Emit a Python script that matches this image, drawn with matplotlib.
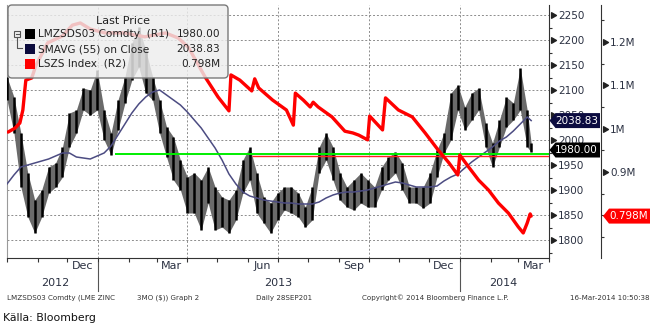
import matplotlib
matplotlib.use("Agg")
import matplotlib.pyplot as plt
import matplotlib.dates as mdates
import matplotlib.ticker as mticker
import matplotlib.transforms as mtransforms
from matplotlib.patches import FancyBboxPatch, Polygon, Rectangle
from matplotlib.path import Path
from matplotlib.transforms import IdentityTransform
import pandas as pd

# --------- data ----------------------------------------
week_dates = list(pd.date_range("2012-10-01", periods=76, freq="7D")) + [pd.Timestamp("2014-03-14")]

price_high = [2126, 2086, 2014, 1934, 1880, 1900, 1946, 1954, 1986, 2054,
              2060, 2104, 2100, 2140, 2060, 2014, 2080, 2126, 2194, 2226,
              2180, 2126, 2080, 2026, 2006, 1960, 1926, 1934, 1920, 1946,
              1906, 1886, 1880, 1900, 1960, 1986, 1934, 1886, 1874, 1894,
              1906, 1906, 1894, 1866, 1906, 1986, 2014, 1986, 1934, 1906,
              1920, 1934, 1920, 1906, 1946, 1966, 1976, 1954, 1906, 1906,
              1906, 1934, 1980, 2014, 2094, 2110, 2066, 2094, 2104, 2034,
              1994, 2040, 2086, 2074, 2144, 2060, 1994]
price_low = [2080, 2014, 1906, 1846, 1814, 1846, 1894, 1906, 1926, 1986,
             2014, 2060, 2050, 2060, 2000, 1970, 2020, 2074, 2120, 2146,
             2094, 2080, 2014, 1966, 1920, 1900, 1854, 1854, 1820, 1874,
             1820, 1826, 1814, 1840, 1894, 1920, 1854, 1834, 1814, 1840,
             1860, 1854, 1846, 1826, 1840, 1934, 1960, 1920, 1880, 1866,
             1860, 1874, 1866, 1866, 1900, 1920, 1934, 1900, 1874, 1874,
             1864, 1874, 1926, 1974, 2000, 2060, 2020, 2040, 2060, 1986,
             1946, 1986, 2026, 2040, 2060, 1986, 1976]
smavg_55 = [1912, 1930, 1946, 1950, 1954, 1958, 1962, 1968, 1974, 1974,
            1966, 1964, 1962, 1968, 1974, 1988, 2010, 2032, 2054, 2072,
            2086, 2096, 2100, 2090, 2080, 2070, 2056, 2040, 2024, 2004,
            1984, 1960, 1932, 1912, 1896, 1888, 1884, 1880, 1878, 1876,
            1874, 1874, 1872, 1872, 1872, 1876, 1884, 1890, 1894, 1896,
            1896, 1898, 1900, 1904, 1908, 1912, 1916, 1914, 1910, 1906,
            1906, 1906, 1908, 1918, 1926, 1932, 1944, 1956, 1966, 1976,
            1986, 1998, 2006, 2018, 2032, 2046, 2038.83]

stock_dates = ["2012-10-02", "2012-10-09", "2012-10-14", "2012-10-17", "2012-10-20",
               "2012-10-26", "2012-10-30", "2012-11-11", "2012-11-26", "2012-12-06",
               "2012-12-14", "2012-12-24", "2013-01-08", "2013-01-28", "2013-02-17",
               "2013-03-10", "2013-03-23", "2013-04-02", "2013-04-19", "2013-05-02",
               "2013-05-13", "2013-05-15", "2013-05-24", "2013-06-05", "2013-06-08",
               "2013-06-12", "2013-06-26", "2013-07-10", "2013-07-17", "2013-07-19",
               "2013-07-27", "2013-08-03", "2013-08-06", "2013-08-11", "2013-08-25",
               "2013-09-07", "2013-09-15", "2013-09-21", "2013-09-30", "2013-10-02",
               "2013-10-15", "2013-10-18", "2013-10-31", "2013-11-14", "2013-11-27",
               "2013-12-10", "2013-12-21", "2013-12-30", "2014-01-01", "2014-01-10",
               "2014-01-20", "2014-01-30", "2014-02-09", "2014-02-19", "2014-03-01",
               "2014-03-06", "2014-03-10", "2014-03-13", "2014-03-14"]
stock_mt = [0.992, 1.001, 1.013, 1.043, 1.112, 1.117, 1.145, 1.198, 1.214, 1.239,
            1.244, 1.230, 1.221, 1.221, 1.212, 1.221, 1.209, 1.188, 1.119, 1.073,
            1.041, 1.124, 1.112, 1.087, 1.115, 1.094, 1.066, 1.043, 1.008, 1.082,
            1.066, 1.050, 1.061, 1.050, 1.027, 0.994, 0.990, 0.985, 0.974, 1.029,
            0.997, 1.071, 1.043, 1.027, 0.990, 0.951, 0.921, 0.893, 0.939, 0.911,
            0.881, 0.858, 0.828, 0.805, 0.773, 0.759, 0.782, 0.803, 0.798]

green_level, green_start = 1972, "2013-01-18"
red_level, red_start = 1969, "2013-06-05"

last_price, last_sma, last_stock = 1980.00, 2038.83, 0.798

month_labels = ["Dec", "Mar", "Jun", "Sep", "Dec", "Mar"]
month_label_dates = ["2012-12-16", "2013-03-16", "2013-06-16", "2013-09-16", "2013-12-16", "2014-03-16"]
year_labels = ["2012", "2013", "2014"]
year_label_dates = ["2012-11-19", "2013-07-02", "2014-02-14"]
year_breaks = ["2013-01-01", "2014-01-01"]

W, H = 655, 327
TXT = "#2b3142"

fig = plt.figure(figsize=(W / 100, H / 100), dpi=100)
ax = fig.add_axes([7 / W, 1 - 258 / H, 542 / W, 253 / H])

# price bars
ax.fill_between(week_dates, price_low, price_high, color="#6a6a6a", lw=0, zorder=2)
ax.vlines(week_dates, price_low, price_high, color="black", lw=1.8, zorder=3)
ax.plot(week_dates, smavg_55, color="#4c4c82", lw=1.1, zorder=4)

xmin, xmax = pd.Timestamp("2012-10-01"), pd.Timestamp("2014-04-01")
ax.hlines(red_level, pd.Timestamp(red_start), xmax, color="#ff2020", lw=1.0, zorder=5)
ax.hlines(green_level, pd.Timestamp(green_start), xmax, color="#00ee00", lw=1.4, zorder=6)

ax.set_xlim(xmin, xmax)
ax.set_ylim(1764, 2270)

# x axis: month ticks, quarter grid
ax.xaxis.set_major_locator(mdates.MonthLocator(bymonth=[1, 4, 7, 10]))
ax.xaxis.set_minor_locator(mdates.MonthLocator())
ax.xaxis.set_major_formatter(mticker.NullFormatter())
ax.tick_params(axis="x", which="both", direction="out", length=3, color="#333333", width=0.8)

ax.yaxis.set_major_locator(mticker.MultipleLocator(50))
ax.yaxis.set_minor_locator(mticker.MultipleLocator(25))
ax.grid(True, which="major", color="#8c8c8c", ls=(0, (2, 2)), lw=0.7)

ax.spines["top"].set_visible(False)
ax.spines["left"].set_color("#9a9a9a")
ax.spines["right"].set_color("#333333")
ax.spines["bottom"].set_color("#333333")

# second axis (stocks)
ax2 = ax.twinx()
ax2.plot(pd.to_datetime(stock_dates), stock_mt, color="#ff0000", lw=2.4,
         solid_joinstyle="round", solid_capstyle="round", zorder=5)
ax2.set_ylim(0.7012, 1.2855)
ax2.spines["right"].set_position(("outward", 37.4))
for s in ["top", "left", "bottom"]:
    ax2.spines[s].set_visible(False)
ax2.spines["right"].set_color("#333333")
ax2.yaxis.set_major_locator(mticker.FixedLocator([0.9, 1.0, 1.1, 1.2]))
ax2.yaxis.set_minor_locator(mticker.MultipleLocator(0.05))
ax2.yaxis.set_major_formatter(mticker.FuncFormatter(lambda v, p: f"{v:g}M"))
ax2.tick_params(axis="y", which="major", length=0, pad=6.5, labelsize=7.5, labelcolor=TXT)
ax2.tick_params(axis="y", which="minor", length=2.5, direction="out", color="#333333", width=0.8)

# twinx moved the price ticks to the left; put them back on the right
ax.yaxis.tick_right()
ax.tick_params(axis="y", which="both", left=False, labelleft=False, right=True, labelright=True)
ax.tick_params(axis="y", which="major", length=0, pad=6.5, labelsize=7.5, labelcolor=TXT)
ax.tick_params(axis="y", which="minor", length=2.5, direction="out", color="#333333", width=0.8)

tri = Path([(0.3, -0.4), (1.0, 0.0), (0.3, 0.4), (0.3, -0.4)], closed=True)
p_ticks = [t for t in ax.get_yticks() if 1764 <= t <= 2270]
ax.plot([1.0] * len(p_ticks), p_ticks, ls="none", marker=tri, ms=10, color="#222222",
        transform=ax.get_yaxis_transform(), clip_on=False)
s_ticks = [0.9, 1.0, 1.1, 1.2]
shift = mtransforms.ScaledTranslation(52 / 100, 0, fig.dpi_scale_trans)
ax2.plot([1.0] * len(s_ticks), s_ticks, ls="none", marker=tri, ms=10, color="#222222",
         transform=ax2.get_yaxis_transform() + shift, clip_on=False)

# month and year labels under the axis
xt = ax.get_xaxis_transform()
for lab, d in zip(month_labels, month_label_dates):
    ax.text(pd.Timestamp(d), -0.03, lab, transform=xt, ha="center", va="center",
            fontsize=8, color=TXT)
for lab, d in zip(year_labels, year_label_dates):
    ax.text(pd.Timestamp(d), -0.10, lab, transform=xt, ha="center", va="center",
            fontsize=8, color=TXT)
for d in year_breaks:
    ax.plot([pd.Timestamp(d)] * 2, [-0.015, -0.13], transform=xt, color="#555555",
            lw=0.8, clip_on=False)

# value tags on the right
idt = IdentityTransform()


def tag(ypix, xl, xr, text, fc):
    h = 7.5
    verts = [(xl, ypix), (xl + 6, ypix + h), (xr, ypix + h), (xr, ypix - h), (xl + 6, ypix - h)]
    fig.add_artist(Polygon(verts, closed=True, transform=idt, fc=fc, ec="none", zorder=10))
    fig.text(xr - 2, ypix, text, transform=idt, ha="right", va="center",
             fontsize=7.5, color="white", zorder=11)


fig.canvas.draw()
y_sma = ax.transData.transform((0, last_sma))[1]
y_px = ax.transData.transform((0, last_price))[1]
y_st = ax2.transData.transform((0, last_stock))[1]
tag(y_sma, 549.5, 600, f"{last_sma:.2f}", "#0c0c40")
tag(y_px, 549.5, 600, f"{last_price:.2f}", "#000000")
tag(y_st, 603, 650, f"{last_stock:.3f}M", "#ff0000")

# legend box
fig.add_artist(FancyBboxPatch((8, H - 78), 220, 73, boxstyle="round,pad=0,rounding_size=4",
                              transform=idt, fc=(0.93, 0.93, 0.93, 0.82), ec="#7a7a7a",
                              lw=1, zorder=8))
fig.text(123, H - 21, "Last Price", transform=idt, ha="center", va="center",
         fontsize=8, color="#222222", zorder=9)
rows = [("LMZSDS03 Comdty  (R1)", f"{last_price:.2f}", "#000000"),
        ("SMAVG (55) on Close", f"{last_sma:.2f}", "#0a0a3c"),
        ("LSZS Index  (R2)", f"{last_stock:.3f}M", "#ff0000")]
for i, (name, val, col) in enumerate(rows):
    yc = H - (34 + 15 * i)
    fig.add_artist(Rectangle((25, yc - 5), 10, 10, transform=idt, fc=col, ec="none", zorder=9))
    fig.text(38, yc, name, transform=idt, ha="left", va="center", fontsize=7.6,
             color="#222222", zorder=9)
    fig.text(220, yc, val, transform=idt, ha="right", va="center", fontsize=7.6,
             color="#222222", zorder=9)
# little tree icon
fig.add_artist(Rectangle((14, H - 37), 6, 6, transform=idt, fc="none", ec="#555555", lw=0.8, zorder=9))
fig.add_artist(plt.Line2D([15.5, 18.5], [H - 34, H - 34], transform=idt, color="#555555", lw=0.8, zorder=9))
fig.add_artist(plt.Line2D([17, 17, 22], [H - 37, H - 48, H - 48], transform=idt, color="#555555", lw=0.8, zorder=9))

# footer
footer = [(7, "LMZSDS03 Comdty (LME ZINC", "left"), (137, "3MO ($)) Graph 2", "left"),
          (256, "Daily 28SEP201", "left"),
          (362, "Copyright\u00a9 2014 Bloomberg Finance L.P.", "left"),
          (650, "16-Mar-2014 10:50:38", "right")]
for x, s, ha in footer:
    fig.text(x, H - 298, s, transform=idt, ha=ha, va="center", fontsize=5.1, color="#333333")
fig.text(3, H - 318, "Källa: Bloomberg", transform=idt, ha="left", va="center", fontsize=7.8,
         color="#111111", family=["Liberation Sans Narrow", "DejaVu Sans"])

fig.savefig("out.png", dpi=100)
